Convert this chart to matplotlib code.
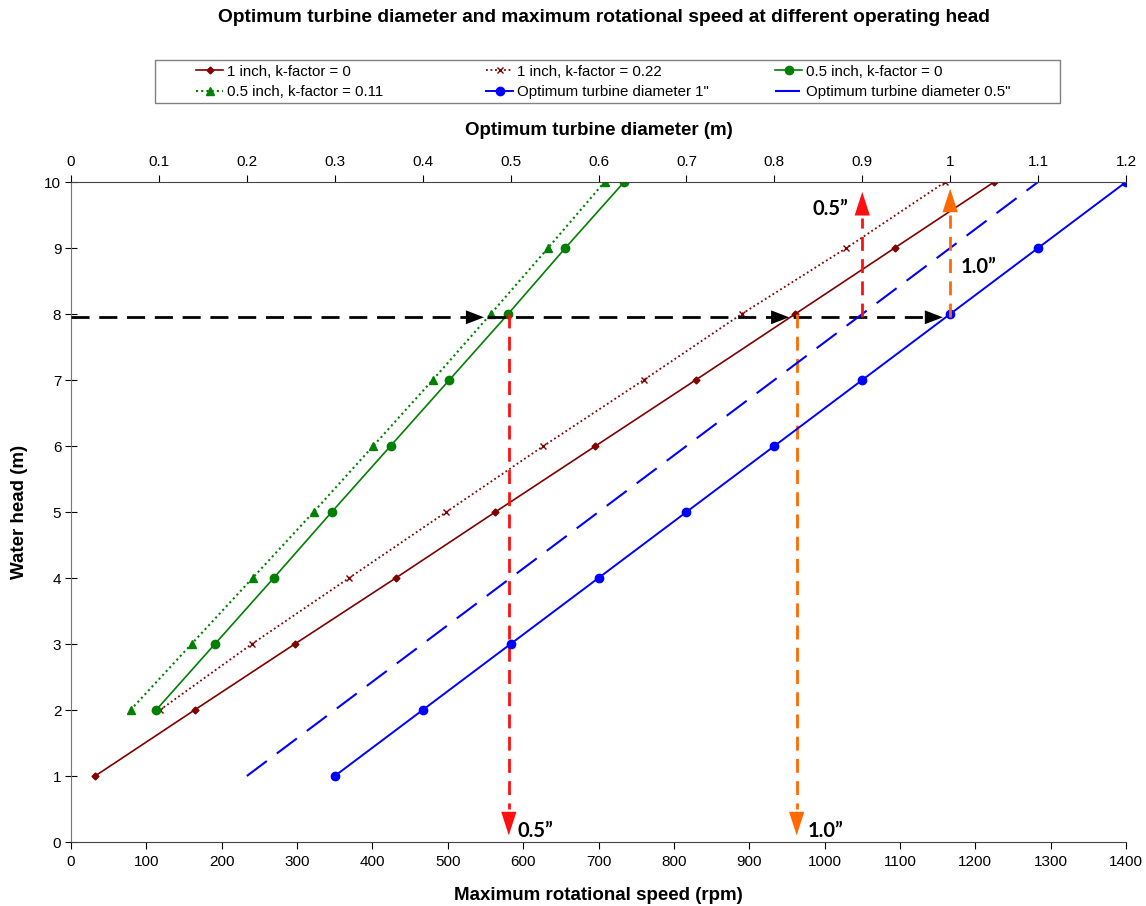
import matplotlib
matplotlib.use("Agg")
import matplotlib.pyplot as plt
from matplotlib.patches import Rectangle

plt.rcParams['font.family'] = ['Liberation Sans', 'DejaVu Sans']

# water head (m)
head = [1, 2, 3, 4, 5, 6, 7, 8, 9, 10]
head_k = [2, 3, 4, 5, 6, 7, 8, 9, 10]

# maximum rotational speed (rpm)
rpm_1in_k0 = [32, 164, 297, 431, 563, 696, 829, 961, 1093, 1225]
rpm_1in_k022 = [118, 240, 369, 498, 627, 760, 890, 1029, 1160]
rpm_05in_k0 = [113, 191, 269, 346, 424, 502, 580, 656, 734]
rpm_05in_k011 = [79, 160, 241, 322, 401, 480, 557, 633, 708]

# optimum turbine diameter (m)
diam_1in = [0.3, 0.4, 0.5, 0.6, 0.7, 0.8, 0.9, 1.0, 1.1, 1.2]
diam_05in = [0.2, 0.3, 0.4, 0.5, 0.6, 0.7, 0.8, 0.9, 1.0, 1.1]

rpm_ticks = list(range(0, 1401, 100))
diam_ticks = [0, 0.1, 0.2, 0.3, 0.4, 0.5, 0.6, 0.7, 0.8, 0.9, 1, 1.1, 1.2]
diam_labels = ['0', '0.1', '0.2', '0.3', '0.4', '0.5', '0.6', '0.7', '0.8', '0.9', '1', '1.1', '1.2']

brown = '#800000'
green = '#008000'
blue = '#0000FF'
red = '#FF1010'
orange = '#FF6A00'

fig = plt.figure(figsize=(11.46, 9.06), dpi=100)
ax = fig.add_axes([71 / 1146, 1 - 842 / 906, 1055 / 1146, 660 / 906])
ax.set_xlim(0, 1400)
ax.set_ylim(0, 10)
ax2 = ax.twiny()
ax2.set_xlim(0, 1.2)

l1, = ax.plot(rpm_1in_k0, head, color=brown, lw=1.2, marker='D', ms=3.5)
l2, = ax.plot(rpm_1in_k022, head_k, color=brown, lw=1.3, ls=(0, (1, 1.5)),
              marker='x', ms=4, mew=1)
l3, = ax.plot(rpm_05in_k0, head_k, color=green, lw=1.2, marker='o', ms=6)
l4, = ax.plot(rpm_05in_k011, head_k, color=green, lw=1.5, ls=(0, (1, 1.5)),
              marker='^', ms=5.5)
l5, = ax2.plot(diam_1in, head, color=blue, lw=1.4, marker='o', ms=6)
l6, = ax2.plot(diam_05in, head, color=blue, lw=1.5, ls=(0, (12, 6)))

# black horizontal dashed line with arrowheads
ax.plot([0, 1150], [7.95, 7.95], color='black', lw=2, ls=(0, (6.5, 3.5)), zorder=5)
for tip in [548, 953, 1157]:
    ax.annotate('', xy=(tip, 7.95), xytext=(tip - 22, 7.95),
                arrowprops=dict(arrowstyle='-|>,head_length=1.3,head_width=0.5',
                                color='black', lw=0, shrinkA=0, shrinkB=0), zorder=6)

# vertical down arrows to the rpm axis
for x, col in [(581, red), (963, orange)]:
    ax.plot([x, x], [8, 0.5], color=col, lw=2, ls=(0, (5, 3)), zorder=5)
    ax.annotate('', xy=(x, 0.1), xytext=(x, 0.5),
                arrowprops=dict(arrowstyle='-|>,head_length=1.7,head_width=0.55',
                                color=col, lw=0, shrinkA=0, shrinkB=0), zorder=6)

# vertical up arrows to the diameter axis
for d, top, col in [(0.9, 9.85, red), (1.0, 9.9, orange)]:
    ax2.plot([d, d], [7.95, top - 0.4], color=col, lw=2, ls=(0, (5, 3)), zorder=5)
    ax2.annotate('', xy=(d, top), xytext=(d, top - 0.42),
                 arrowprops=dict(arrowstyle='-|>,head_length=1.7,head_width=0.55',
                                 color=col, lw=0, shrinkA=0, shrinkB=0), zorder=6)

lab = dict(fontsize=14.5, fontweight='bold', family=['Lato', 'DejaVu Sans'])
ax.text(593, 0.16, '0.5\u201d', ha='left', va='center', **lab)
ax.text(978, 0.16, '1.0\u201d', ha='left', va='center', **lab)
ax.text(1031, 9.59, '0.5\u201d', ha='right', va='center', **lab)
ax.text(1180, 8.71, '1.0\u201d', ha='left', va='center', **lab)

# axes styling
ax.set_xticks(rpm_ticks)
ax.set_yticks(range(0, 11))
ax2.set_xticks(diam_ticks)
ax2.set_xticklabels(diam_labels)
for a in (ax, ax2):
    a.spines['right'].set_visible(False)
ax.spines['top'].set_visible(False)
ax2.spines['bottom'].set_visible(False)
ax2.spines['left'].set_visible(False)
ax.spines['left'].set_color('#777777')
ax.spines['bottom'].set_color('#444444')
ax2.spines['top'].set_color('#444444')
ax.tick_params(axis='x', direction='out', length=5, labelsize=11, pad=4)
ax.tick_params(axis='y', direction='inout', length=8, labelsize=11, pad=3)
ax2.tick_params(axis='x', direction='out', length=5, labelsize=11, pad=4)

ax.set_xlabel('Maximum rotational speed (rpm)', fontsize=13.5, fontweight='bold', labelpad=13)
ax.set_ylabel('Water head (m)', fontsize=13.5, fontweight='bold', labelpad=12)
ax2.set_xlabel('Optimum turbine diameter (m)', fontsize=13.5, fontweight='bold', labelpad=15)

fig.text(604 / 1146, 1 - 18 / 906,
         'Optimum turbine diameter and maximum rotational speed at different operating head',
         ha='center', va='center', fontsize=13.8, fontweight='bold')

# legend: three fixed-width columns inside one frame
columns = [([l1, l4], ['1 inch, k-factor = 0', '0.5 inch, k-factor = 0.11']),
           ([l2, l5], ['1 inch, k-factor = 0.22', 'Optimum turbine diameter 1"']),
           ([l3, l6], ['0.5 inch, k-factor = 0', 'Optimum turbine diameter 0.5"'])]
for xpix, (hs, ls) in zip([196, 486, 775], columns):
    fig.legend(hs, ls, loc='center left', bbox_to_anchor=(xpix / 1146, 1 - 82 / 906),
               fontsize=10.8, frameon=False, handlelength=1.8, handletextpad=0.25,
               labelspacing=0.45, borderpad=0, borderaxespad=0)
fig.patches.append(Rectangle((155 / 1146, 1 - 103 / 906), 905 / 1146, 43 / 906,
                             transform=fig.transFigure, fill=False,
                             edgecolor='#808080', lw=1))

fig.savefig('out.png', dpi=100)
